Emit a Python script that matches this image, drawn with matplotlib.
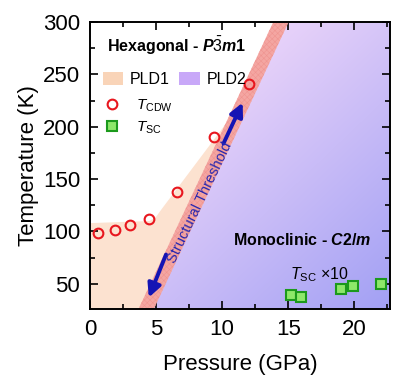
import numpy as np
import matplotlib
matplotlib.use("Agg")
import matplotlib.pyplot as plt
from matplotlib.patches import Polygon, Patch
from matplotlib.lines import Line2D

plt.rcParams['font.family'] = ['Liberation Sans', 'DejaVu Sans']
plt.rcParams['mathtext.fontset'] = 'custom'
plt.rcParams['mathtext.rm'] = 'Liberation Sans'
plt.rcParams['mathtext.it'] = 'Liberation Sans:italic'
plt.rcParams['mathtext.bf'] = 'Liberation Sans:bold'
plt.rcParams['mathtext.bfit'] = 'Liberation Sans:bold:italic'

# ---- data ----
pressure_cdw = [0.6, 1.9, 3.0, 4.5, 6.6, 9.4, 12.0]
t_cdw = [99, 101, 106, 112, 138, 190, 241]
pressure_sc = [15.2, 16.0, 19.0, 19.9, 22.0]
t_sc_x10 = [39.5, 37.5, 45, 48, 50]

# phase boundaries (pressure GPa, temperature K)
threshold_p = [4.25, 14.45]
threshold_t = [26, 300]
threshold_halfwidth = 0.58
pld1_boundary_p = [0.0, 4.5, 5.0, 5.4, 11.0]
pld1_boundary_t = [108, 110, 114, 121, 215]

xlim = (0, 22.7)
ylim = (26, 300)
xticks = [0, 5, 10, 15, 20]
yticks = [50, 100, 150, 200, 250, 300]

fig = plt.figure(figsize=(3.93, 3.77), dpi=100)
ax = fig.add_axes([90/393, 1-309/377, 300/393, 287/377])
ax.set_xlim(*xlim)
ax.set_ylim(*ylim)

# PLD1 region (peach)
pld1_poly = [(xlim[0], ylim[0])] + list(zip(pld1_boundary_p, pld1_boundary_t)) + \
    [(threshold_p[0], threshold_t[0])]
ax.add_patch(Polygon(pld1_poly, closed=True, facecolor='#fce2d0', edgecolor='none', zorder=1))

# PLD2 region (purple gradient)
pld2_poly = [(threshold_p[0], threshold_t[0]), (threshold_p[1], threshold_t[1]),
             (xlim[1], ylim[1]), (xlim[1], ylim[0])]
clip = Polygon(pld2_poly, closed=True, facecolor='none', edgecolor='none', transform=ax.transData)
ax.add_patch(clip)
n = 200
xx, yy = np.meshgrid(np.linspace(0, 1, n), np.linspace(1, 0, n))
tt = np.clip((xx + (1 - yy)) / 2.0, 0, 1)
tt = np.clip((tt - 0.25) / 0.75, 0, 1)
c0 = np.array([0xf0, 0xd8, 0xfa]) / 255.0
c1 = np.array([0xa2, 0xa0, 0xf4]) / 255.0
img = c0[None, None, :] + (c1 - c0)[None, None, :] * tt[..., None]
im = ax.imshow(img, extent=[xlim[0], xlim[1], ylim[0], ylim[1]], aspect='auto',
               origin='upper', zorder=1, interpolation='bilinear')
im.set_clip_path(clip)

# structural threshold band
hw = threshold_halfwidth
band = [(threshold_p[0]-hw, threshold_t[0]), (threshold_p[1]-hw, threshold_t[1]),
        (threshold_p[1]+hw, threshold_t[1]), (threshold_p[0]+hw, threshold_t[0])]
plt.rcParams['hatch.linewidth'] = 0.4
ax.add_patch(Polygon(band, closed=True, facecolor='#f4a6a2', edgecolor='#ef9490',
                     hatch='xxxxxx', linewidth=0, zorder=2))

# arrows
acol = '#1414b4'
ax.annotate('', xy=(11.55, 223), xytext=(10.1, 184),
            arrowprops=dict(arrowstyle='-|>,head_width=0.4,head_length=0.8',
                            color=acol, lw=2.8, shrinkA=0, shrinkB=0), zorder=4)
ax.annotate('', xy=(4.45, 37), xytext=(5.75, 78),
            arrowprops=dict(arrowstyle='-|>,head_width=0.4,head_length=0.8',
                            color=acol, lw=2.8, shrinkA=0, shrinkB=0), zorder=4)
ax.text(8.3, 128, 'Structural Threshold', rotation=64.5, color='#2828b0',
        fontsize=10.5, ha='center', va='center', rotation_mode='anchor', zorder=4)

# data points
ax.plot(pressure_cdw, t_cdw, 'o', mfc='none', mec='#e8161e', mew=1.5, ms=7, zorder=5)
ax.plot(pressure_sc, t_sc_x10, 's', mfc='#8ee86a', mec='#1c9a1c', mew=1.5, ms=6.5, zorder=5)

# texts
ax.text(1.3, 277, r'Hexagonal - $\boldsymbol{P\bar{3}m}$1', fontsize=11.5, fontweight='bold',
        ha='left', va='center', zorder=6)
ax.text(10.8, 92, r'Monoclinic - $\boldsymbol{C2/m}$', fontsize=11.5, fontweight='bold',
        ha='left', va='center', zorder=6)
ax.text(15.1, 59, r'$T_{\mathrm{SC}}$ $\times$10', fontsize=11.5, ha='left', va='center', zorder=6)

# legends
h1 = [Patch(facecolor='#f9d4b8', edgecolor='none', label='PLD1'),
      Patch(facecolor='#c8a8f8', edgecolor='none', label='PLD2')]
leg1 = ax.legend(handles=h1, ncol=2, loc='upper left', bbox_to_anchor=(0.01, 0.86),
                 frameon=False, fontsize=11.5, handlelength=1.3, handleheight=0.9,
                 handletextpad=0.4, columnspacing=0.6, borderaxespad=0.2)
ax.add_artist(leg1)
h2 = [Line2D([], [], ls='none', marker='o', mfc='none', mec='#e8161e', mew=1.5, ms=7,
             label=r'$T_{\mathrm{CDW}}$'),
      Line2D([], [], ls='none', marker='s', mfc='#8ee86a', mec='#1c9a1c', mew=1.5, ms=6.5,
             label=r'$T_{\mathrm{SC}}$')]
leg2 = ax.legend(handles=h2, loc='upper left', bbox_to_anchor=(0.01, 0.77),
                 frameon=False, fontsize=11, handlelength=1.3, handletextpad=0.9,
                 labelspacing=0.4, borderaxespad=0.2)
for lg in (leg1, leg2):
    lg.set_zorder(7)

# axes styling
ax.set_xticks(xticks)
ax.set_yticks(yticks)
ax.set_xticks(np.arange(2.5, 22.7, 5), minor=True)
ax.set_yticks(np.arange(75, 300, 50), minor=True)
ax.tick_params(which='both', direction='in', top=True, right=True, labelsize=16,
               width=1.2, zorder=8)
ax.tick_params(which='major', length=6, pad=7)
ax.tick_params(which='minor', length=3.5)
for s in ax.spines.values():
    s.set_linewidth(1.4)
    s.set_zorder(8)
ax.set_xlabel('Pressure (GPa)', fontsize=16, labelpad=10)
ax.set_ylabel('Temperature (K)', fontsize=16, labelpad=3)

fig.savefig('out.png', dpi=100)
